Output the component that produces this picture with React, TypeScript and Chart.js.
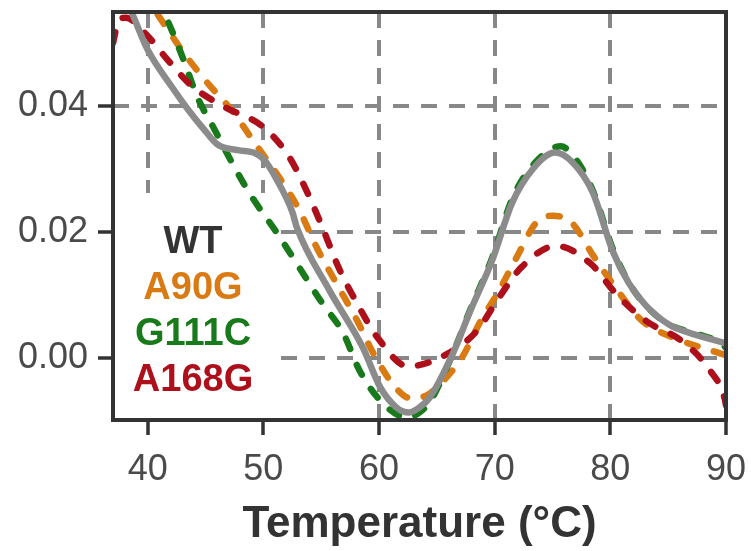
import React, { useEffect, useRef } from "react";
import { Chart, registerables } from "chart.js";

Chart.register(...registerables);

const FONT = '"Liberation Sans", Arial, Helvetica, sans-serif';

const xTicks = [40, 50, 60, 70, 80, 90];
const yTicks = [0, 0.02, 0.04];
const xTitle = "Temperature (°C)";

const seriesNames = ["WT", "A90G", "G111C", "A168G"];
const seriesColors = ["#8b8b8b", "#d97a12", "#187a1a", "#ad101a"];
const legendColors = ["#333333", "#d97a12", "#187a1a", "#ad101a"];

const wtTemp = [37, 38.5, 40, 42.1, 43.5, 44.9, 46.1, 47.8, 49.3, 50.1, 51.1, 52.5, 52.9, 55.7, 58.6, 60.1, 61.5, 62.6, 63.5, 64.4, 66.4, 67.8, 69.8, 71.5, 73.3, 75.2, 76.7, 78.5, 80.2, 81.6, 83.1, 85.1, 87.4, 89.7, 90];
const wtVal = [0.0605, 0.0553, 0.0489, 0.0430, 0.0394, 0.0362, 0.0338, 0.0330, 0.0325, 0.0314, 0.0285, 0.0232, 0.0207, 0.0108, 0.0017, -0.0046, -0.0078, -0.0086, -0.0078, -0.0062, 0.0008, 0.0071, 0.0156, 0.0246, 0.0300, 0.0326, 0.0311, 0.0262, 0.0170, 0.0119, 0.0083, 0.0053, 0.0037, 0.0025, 0.0023];

const a90gTemp = [37, 38.5, 40, 41.3, 43.0, 45.1, 47.4, 49.3, 51.4, 53.1, 54.6, 56.3, 58.1, 59.5, 61.5, 62.8, 64.2, 65.6, 67.2, 68.7, 70.4, 71.9, 73.6, 75.0, 76.7, 78.5, 80.4, 82.7, 85.4, 88.9, 90];
const a90gVal = [0.0556, 0.0574, 0.0565, 0.0533, 0.0487, 0.0438, 0.0390, 0.0340, 0.0286, 0.0235, 0.0176, 0.0119, 0.0060, 0.0008, -0.0048, -0.0064, -0.0058, -0.0035, 0.0002, 0.0056, 0.0108, 0.0160, 0.0215, 0.0226, 0.0214, 0.0163, 0.0113, 0.0060, 0.0033, 0.0011, 0.0005];

const g111cTemp = [39.5, 41.3, 43.0, 44.3, 45.8, 47.5, 49.0, 51.2, 53.1, 55.1, 56.9, 58.3, 60.1, 62.4, 63.5, 64.5, 66.4, 67.8, 69.8, 71.5, 73.3, 75.7, 77.0, 78.5, 80.2, 81.6, 83.1, 85.1, 87.4, 89.7, 90];
const g111cVal = [0.0610, 0.0552, 0.0478, 0.0414, 0.0362, 0.0303, 0.0256, 0.0198, 0.0144, 0.0087, 0.0040, -0.0019, -0.0067, -0.0094, -0.0086, -0.0066, 0.0008, 0.0073, 0.0160, 0.0252, 0.0306, 0.0336, 0.0316, 0.0265, 0.0174, 0.0120, 0.0083, 0.0053, 0.0039, 0.0022, 0.0016];

const a168gTemp = [37, 37.5, 38.1, 39.9, 41.5, 43.8, 46.8, 49.9, 52.2, 53.8, 55.2, 56.5, 58.1, 59.9, 62.5, 65.4, 68.4, 70.4, 72.3, 75.3, 78.3, 80.5, 83.1, 86.2, 88.6, 89.9, 90];
const a168gVal = [0.0500, 0.0536, 0.0540, 0.0513, 0.0478, 0.0432, 0.0397, 0.0368, 0.0320, 0.0263, 0.0203, 0.0144, 0.0087, 0.0032, -0.0013, 0.0002, 0.0042, 0.0097, 0.0144, 0.0178, 0.0150, 0.0102, 0.0059, 0.0027, -0.0019, -0.0065, -0.0075];

const seriesTemps = [wtTemp, a90gTemp, g111cTemp, a168gTemp];
const seriesVals = [wtVal, a90gVal, g111cVal, a168gVal];

const X_MIN = 37;
const X_MAX = 90;
const Y_MIN = -0.0098;
const Y_MAX = 0.0549;

const overlayPlugin = {
  id: "overlay",
  beforeDatasetsDraw(chart: any) {
    const { ctx, chartArea: a, scales } = chart;
    const boxRight = scales.x.getPixelForValue(51.5);
    const boxTop = scales.y.getPixelForValue(0.0262);
    ctx.save();
    ctx.fillStyle = "#ffffff";
    ctx.fillRect(a.left + 2, boxTop, boxRight - a.left - 2, a.bottom - boxTop - 2);
    ctx.font = `bold 38px ${FONT}`;
    ctx.textAlign = "center";
    ctx.textBaseline = "alphabetic";
    const cx = a.left + 80;
    const firstBase = boxTop + 60;
    seriesNames.forEach((name, i) => {
      ctx.fillStyle = legendColors[i];
      ctx.fillText(name, cx, firstBase + i * 46);
    });
    ctx.restore();
  },
  afterDatasetsDraw(chart: any) {
    const { ctx, chartArea: a } = chart;
    ctx.save();
    ctx.strokeStyle = "#333333";
    ctx.lineWidth = 4;
    ctx.strokeRect(a.left, a.top, a.right - a.left, a.bottom - a.top);
    ctx.restore();
  },
};

export default function App() {
  const ref = useRef<HTMLCanvasElement | null>(null);
  useEffect(() => {
    document.body.style.margin = "0";
    const canvas = ref.current;
    if (!canvas) return;
    const datasets = seriesNames.map((name, i) => ({
      label: name,
      data: seriesTemps[i].map((t, j) => ({ x: t, y: seriesVals[i][j] })),
      borderColor: seriesColors[i],
      backgroundColor: seriesColors[i],
      borderWidth: 6.5,
      borderDash: i === 0 ? [] : [11, 17],
      borderCapStyle: i === 0 ? "butt" : "round",
      borderJoinStyle: "round",
      pointRadius: 0,
      pointHoverRadius: 0,
      showLine: true,
      fill: false,
      cubicInterpolationMode: "monotone",
      order: i === 0 ? 0 : 4 - i,
    }));
    const chart = new Chart(canvas, {
      type: "scatter",
      data: { datasets: datasets as any },
      plugins: [overlayPlugin as any],
      options: {
        animation: false,
        responsive: false,
        devicePixelRatio: 1,
        layout: { padding: { top: 12, right: 25, left: 0, bottom: 0 } },
        plugins: { legend: { display: false }, tooltip: { enabled: false } },
        scales: {
          x: {
            type: "linear",
            min: X_MIN,
            max: X_MAX,
            afterBuildTicks: (s: any) => {
              s.ticks = xTicks.map((v) => ({ value: v }));
            },
            afterFit: (s: any) => {
              s.height = 131;
              s.paddingLeft = 0;
              s.paddingRight = 0;
            },
            grid: {
              color: "#888888",
              lineWidth: 4,
              tickColor: "#333333",
              tickWidth: 3.5,
              tickLength: 15,
            },
            border: { display: false, dash: [16, 12] },
            ticks: {
              color: "#4a4a4a",
              font: { family: FONT, size: 36 },
              padding: 13,
              maxRotation: 0,
              autoSkip: false,
              callback: (v: any) => String(v),
            },
            title: {
              display: true,
              text: xTitle,
              color: "#333333",
              font: { family: FONT, size: 44, weight: "bold" },
              padding: { top: 0, bottom: 0 },
            },
          },
          y: {
            type: "linear",
            min: Y_MIN,
            max: Y_MAX,
            afterBuildTicks: (s: any) => {
              s.ticks = yTicks.map((v) => ({ value: v }));
            },
            afterFit: (s: any) => {
              s.width = 113;
              s.paddingTop = 0;
              s.paddingBottom = 0;
            },
            grid: {
              color: "#888888",
              lineWidth: 4,
              tickColor: "#333333",
              tickWidth: 3.5,
              tickLength: 15,
            },
            border: { display: false, dash: [16, 12] },
            ticks: {
              color: "#4a4a4a",
              font: { family: FONT, size: 36 },
              padding: 10,
              autoSkip: false,
              callback: (v: any) => Number(v).toFixed(2),
            },
          },
        },
      } as any,
    });
    return () => chart.destroy();
  }, []);
  return (
    <div style={{ width: 751, height: 551, background: "#fff" }}>
      <canvas ref={ref} width={751} height={551} style={{ width: 751, height: 551, display: "block" }} />
    </div>
  );
}
